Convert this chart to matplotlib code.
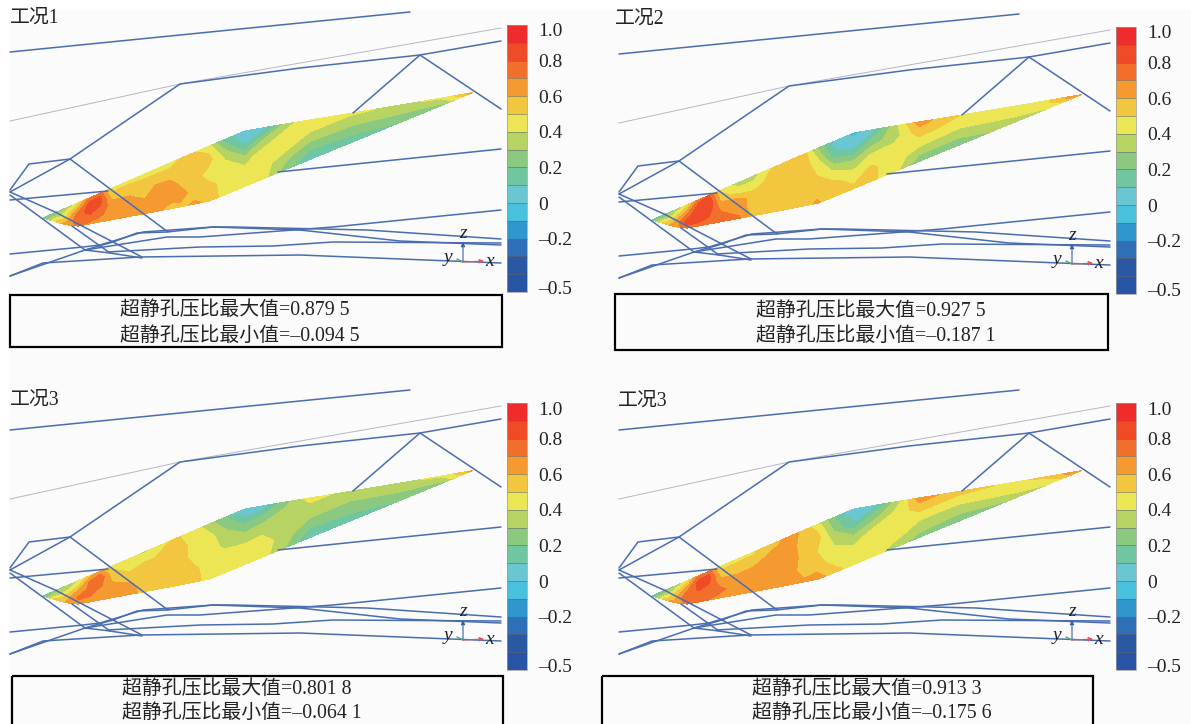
import numpy as np
import matplotlib
matplotlib.use("Agg")
import matplotlib.pyplot as plt
from matplotlib.patches import Rectangle
from matplotlib.transforms import ScaledTranslation

plt.rcParams['font.family'] = ['Liberation Serif', 'Noto Sans CJK SC']

W, H = 1191, 724

# Panel texts
titles = ['工况1', '工况2', '工况3', '工况3']
max_texts = ['超静孔压比最大值=0.879 5', '超静孔压比最大值=0.927 5', '超静孔压比最大值=0.801 8', '超静孔压比最大值=0.913 3']
min_texts = ['超静孔压比最小值=–0.094 5', '超静孔压比最小值=–0.187 1', '超静孔压比最小值=–0.064 1', '超静孔压比最小值=–0.175 6']

# Colour bar
levels = [-0.5, -0.4, -0.3, -0.2, -0.1, 0, 0.1, 0.2, 0.3, 0.4, 0.5, 0.6, 0.7, 0.8, 0.9, 1.0]
band_colors = ['#2754A4', '#2A58A4', '#2F6FB8', '#2F96CE', '#47C1DE', '#6AC6D0', '#71C6A2', '#8BC880',
               '#B6D364', '#ECE655', '#F2C73F', '#F59A30', '#F26F2B', '#EF4B27', '#EE2C2C']
cbar_ticks = [-0.5, -0.2, 0, 0.2, 0.4, 0.6, 0.8, 1.0]
cbar_labels = ['–0.5', '–0.2', '0', '0.2', '0.4', '0.6', '0.8', '1.0']

# Wedge outline, in image pixels of the first panel
upper_x = [43, 110, 207, 245, 285, 353, 413, 473]
upper_y = [218, 189, 147, 131, 124, 113, 103, 92.5]
lower_x = [43, 73, 180, 210, 277, 473]
lower_y = [218, 227, 207, 201, 173, 92.5]

# Field sampled across the wedge (lower edge to upper edge) at each column
wedge_x = [43, 55, 65, 78, 90, 100, 112, 130, 145, 155, 170, 180, 195, 208, 225, 245, 262, 285, 310, 350, 400, 440, 473]
wedge_t = [0, 0.25, 0.5, 0.75, 1]

field_1 = [
    [.15, .15, .15, .15, .15], [.5, .45, .35, .25, .2], [.65, .55, .45, .4, .3], [.72, .78, .75, .6, .45],
    [.68, .75, .85, .85, .72], [.65, .72, .78, .85, .75], [.65, .65, .65, .55, .45], [.65, .65, .62, .55, .47],
    [.65, .65, .55, .55, .45], [.65, .65, .65, .55, .45], [.55, .65, .65, .55, .45], [.57, .65, .58, .55, .5],
    [.62, .55, .55, .55, .5], [.58, .55, .45, .55, .45], [.45, .45, .45, .35, .15], [.45, .45, .35, .1, 0],
    [.45, .45, .45, .3, 0], [.25, .33, .45, .45, .33], [.08, .2, .32, .42, .5], [.12, .2, .28, .35, .42],
    [.2, .25, .3, .33, .38], [.25, .3, .33, .36, .42], [.55, .6, .65, .65, .6],
]
field_2 = [
    [.15, .15, .15, .15, .15], [.55, .45, .35, .25, .15], [.65, .6, .5, .4, .3], [.75, .85, .75, .6, .45],
    [.75, .85, .9, .85, .75], [.75, .8, .85, .9, .8], [.75, .72, .65, .55, .48], [.72, .65, .65, .45, .35],
    [.55, .55, .55, .45, .35], [.55, .55, .55, .5, .45], [.55, .55, .55, .55, .55], [.55, .55, .55, .55, .55],
    [.55, .55, .55, .55, .55], [.62, .55, .5, .45, .3], [.52, .52, .38, .15, .05], [.52, .45, .3, .05, -.02],
    [.52, .52, .42, .25, .03], [.45, .45, .45, .35, .35], [.2, .35, .45, .55, .65], [.25, .3, .38, .45, .5],
    [.33, .38, .42, .45, .45], [.4, .42, .45, .5, .5], [.6, .65, .7, .7, .7],
]
field_3 = [
    [.15, .15, .15, .15, .15], [.55, .45, .35, .3, .2], [.6, .55, .45, .35, .3], [.65, .72, .65, .5, .4],
    [.62, .72, .72, .72, .55], [.65, .62, .72, .78, .65], [.65, .65, .6, .55, .47], [.65, .62, .55, .45, .42],
    [.55, .55, .55, .5, .38], [.55, .55, .55, .5, .45], [.55, .55, .55, .55, .5], [.55, .55, .55, .55, .5],
    [.55, .52, .45, .45, .45], [.45, .45, .45, .45, .35], [.45, .45, .38, .32, .2], [.45, .45, .35, .18, 0],
    [.45, .45, .38, .25, .02], [.3, .35, .35, .35, .25], [.08, .2, .3, .35, .45], [.12, .2, .25, .32, .35],
    [.2, .25, .3, .33, .38], [.25, .3, .33, .36, .42], [.55, .6, .65, .65, .6],
]
field_4 = [
    [.1, .1, .1, .1, .1], [.55, .45, .35, .25, .12], [.65, .55, .5, .4, .3], [.72, .8, .72, .6, .45],
    [.72, .75, .82, .85, .72], [.7, .72, .78, .85, .75], [.65, .72, .65, .55, .45], [.65, .65, .62, .55, .47],
    [.65, .65, .65, .55, .48], [.65, .65, .65, .6, .55], [.6, .65, .65, .65, .58], [.62, .65, .68, .65, .68],
    [.62, .55, .55, .55, .55], [.65, .55, .5, .55, .45], [.55, .45, .4, .3, .2], [.45, .45, .32, .1, 0],
    [.45, .45, .42, .25, .02], [.35, .45, .47, .42, .3], [.25, .35, .42, .55, .65], [.2, .3, .38, .45, .55],
    [.3, .38, .42, .45, .48], [.4, .43, .45, .5, .52], [.6, .65, .7, .7, .7],
]
fields = [field_1, field_2, field_3, field_4]

# Wire frame polylines, in image pixels of the first panel
frame_lines = [
    [(10, 52), (410, 12)],
    [(10, 192), (70, 159), (180, 84), (300, 68), (420, 55), (501, 41)],
    [(420, 55), (353, 113)],
    [(420, 55), (501, 109)],
    [(10, 190), (29, 164), (70, 159), (168, 232)],
    [(10, 200), (108, 191)],
    [(10, 192), (55, 212), (142, 257)],
    [(10, 195), (85, 250), (110, 253), (142, 258)],
    [(72, 226), (110, 253)],
    [(10, 254), (83, 247), (100, 245), (143, 232), (213, 227), (233, 227), (367, 230), (501, 239)],
    [(10, 276), (85, 250), (113, 242), (137, 233), (167, 232), (213, 227), (300, 230), (400, 241), (501, 245)],
    [(10, 276), (43, 263), (140, 257), (300, 255), (501, 263)],
    [(107, 252), (200, 247), (273, 246), (333, 242), (501, 243)],
    [(85, 250), (167, 237), (200, 237), (333, 227), (501, 210)],
    [(278, 172), (501, 149)],
]
thin_line = [(10, 121), (180, 84), (300, 63), (501, 28)]

# Panel placement and text positions
panel_dx = [0, 609, 0, 609]
panel_dy = [0, 2, 378, 378]
title_pos = [(10, 18), (615, 19), (10, 400), (618, 401)]
box_rect = [(10, 295, 492, 52), (615, 294, 493, 56), (12, 676, 491, 60), (602, 676, 491, 60)]
text_x = [120, 756, 122, 752]
text_y1 = [310, 311, 689, 689]
text_y2 = [336, 336, 713, 713]

fig = plt.figure(figsize=(W / 100, H / 100), dpi=100)
ax = fig.add_axes([0, 0, 1, 1])
ax.set_xlim(0, W)
ax.set_ylim(H, 0)
ax.axis('off')
ax.add_patch(Rectangle((9, 10), W - 9, H - 10, fc='#FBFBFB', ec='none', zorder=0))

blue = '#4A6DB0'

for i in range(4):
    dx, dy = panel_dx[i], panel_dy[i]

    # wedge field
    col_x = np.array(wedge_x, dtype=float)
    y_up = np.interp(col_x, upper_x, upper_y)
    y_lo = np.interp(col_x, lower_x, lower_y)
    t = np.array(wedge_t)
    X = np.repeat(col_x[:, None], len(t), axis=1) + dx
    Y = y_lo[:, None] + (y_up - y_lo)[:, None] * t[None, :] + dy
    cs = ax.contourf(X, Y, np.array(fields[i]), levels=levels, colors=band_colors, zorder=2)

    # frame lines
    for line in frame_lines:
        pts = np.array(line, dtype=float)
        ax.plot(pts[:, 0] + dx, pts[:, 1] + dy, color=blue, lw=1.1, zorder=3, solid_capstyle='round')
    pts = np.array(thin_line, dtype=float)
    ax.plot(pts[:, 0] + dx, pts[:, 1] + dy, color='#B8B4C4', lw=0.7, zorder=1)

    # little axis triad
    ox, oy = 463 + dx, 262 + dy
    ax.annotate('', xy=(ox, oy - 20), xytext=(ox, oy), zorder=4,
                arrowprops=dict(arrowstyle='-|>,head_width=0.12,head_length=0.25', color='#3A62B0', lw=0.8, shrinkA=0, shrinkB=0))
    ax.annotate('', xy=(ox + 21, oy - 1), xytext=(ox, oy), zorder=4,
                arrowprops=dict(arrowstyle='-|>,head_width=0.12,head_length=0.25', color='#E8505A', lw=0.8, shrinkA=0, shrinkB=0))
    ax.plot([ox, ox - 6], [oy, oy - 3], color='#4CA860', lw=0.9, zorder=4)
    ax.text(ox, oy - 29, 'z', style='italic', fontsize=14, ha='center', va='center', color='#222222', zorder=5)
    ax.text(ox + 27, oy + 0, 'x', style='italic', fontsize=14, ha='center', va='center', color='#222222', zorder=5)
    ax.text(ox - 15, oy - 4, 'y', style='italic', fontsize=14, ha='center', va='center', color='#222222', zorder=5)

    # colour bar
    cax = fig.add_axes([(507 + dx) / W, 1 - (292 + dy) / H, 20 / W, 267 / H])
    cb = fig.colorbar(cs, cax=cax, ticks=cbar_ticks, drawedges=True)
    cb.ax.set_yticklabels(cbar_labels, fontsize=14, color='#222222')
    cb.ax.tick_params(length=0, pad=8)
    cb.outline.set_edgecolor('#999999')
    cb.outline.set_linewidth(0.5)
    cb.dividers.set_color('#666666')
    cb.dividers.set_linewidth(0.4)
    # end labels sit a little inside the bar
    labels = cb.ax.get_yticklabels()
    labels[0].set_transform(labels[0].get_transform() + ScaledTranslation(0, 5 / 100, fig.dpi_scale_trans))
    labels[-1].set_transform(labels[-1].get_transform() + ScaledTranslation(0, -5 / 100, fig.dpi_scale_trans))

    # title and result box
    ax.text(title_pos[i][0], title_pos[i][1], titles[i], fontsize=14.3, ha='left', va='center', color='#222222', zorder=5)
    bx, by, bw, bh = box_rect[i]
    ax.add_patch(Rectangle((bx, by), bw, bh, fc='none', ec='black', lw=1.6, zorder=5))
    ax.text(text_x[i], text_y1[i], max_texts[i], fontsize=14.3, ha='left', va='center', color='#222222', zorder=5)
    ax.text(text_x[i], text_y2[i], min_texts[i], fontsize=14.3, ha='left', va='center', color='#222222', zorder=5)

fig.savefig('out.png', dpi=100, facecolor='white')
